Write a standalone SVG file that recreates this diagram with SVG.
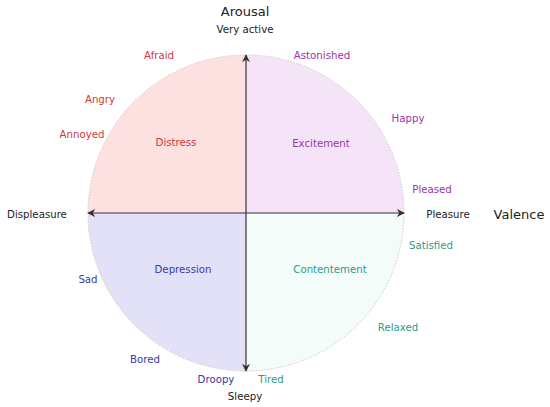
<svg xmlns="http://www.w3.org/2000/svg" width="550" height="407" viewBox="0 0 550 407">
<style>
text{font-family:"DejaVu Sans",Verdana,sans-serif;font-size:10.2px;text-anchor:middle}
.k{fill:#222}
.big{font-size:13px}
.r{fill:#d0383a}
.p{fill:#9a34a8}
.b{fill:#3a3aa0}
.t{fill:#2a9c8c}
.ax{stroke:#333;stroke-width:1.2;fill:none}
</style>
<defs>
<marker id="ah" viewBox="0 0 10 10" refX="9" refY="5" markerWidth="8" markerHeight="8" orient="auto-start-reverse" markerUnits="userSpaceOnUse">
<path d="M0,0 L10,5 L0,10 L3,5 Z" fill="#333"/>
</marker>
</defs>
<g id="quadrants">
<path id="q-distress" d="M246,213 L88,213 A158,158 0 0 1 246,55 Z" fill="#fde1e1"/>
<path id="q-excitement" d="M246,213 L246,55 A158,158 0 0 1 404,213 Z" fill="#f5e4f8"/>
<path id="q-depression" d="M246,213 L88,213 A158,158 0 0 0 246,371 Z" fill="#e2e1f7"/>
<path id="q-contentement" d="M246,213 L404,213 A158,158 0 0 1 246,371 Z" fill="#f4fcfa"/>
<circle cx="246" cy="213" r="158" fill="none" stroke="#c8c8c8" stroke-width="1" stroke-dasharray="1.5,1.5"/>
</g>
<g id="connectors">
<line class="ax" x1="246" y1="213" x2="246" y2="55" marker-end="url(#ah)"/>
<line class="ax" x1="246" y1="213" x2="246" y2="371" marker-end="url(#ah)"/>
<line class="ax" x1="246" y1="213" x2="88" y2="213" marker-end="url(#ah)"/>
<line class="ax" x1="246" y1="213" x2="404" y2="213" marker-end="url(#ah)"/>
</g>
<g id="labels">
<text class="k big" x="245" y="16">Arousal</text>
<text class="k" x="245" y="33">Very active</text>
<text class="k" x="245" y="400">Sleepy</text>
<text class="k" x="37" y="218">Displeasure</text>
<text class="k" x="448" y="218">Pleasure</text>
<text class="k big" x="519" y="219">Valence</text>
<text class="r" x="159" y="59">Afraid</text>
<text class="r" x="100" y="103">Angry</text>
<text class="r" x="82" y="138">Annoyed</text>
<text class="r" x="176" y="146">Distress</text>
<text class="p" x="322" y="59">Astonished</text>
<text class="p" x="408" y="122">Happy</text>
<text class="p" x="321" y="147">Excitement</text>
<text class="p" x="432" y="193">Pleased</text>
<text class="t" x="431" y="249">Satisfied</text>
<text class="t" x="330" y="273">Contentement</text>
<text class="t" x="398" y="331">Relaxed</text>
<text class="t" x="271" y="383">Tired</text>
<text class="b" x="183" y="273">Depression</text>
<text class="b" x="88" y="283">Sad</text>
<text class="b" x="145" y="363">Bored</text>
<text class="b" x="216" y="383">Droopy</text>
</g>
</svg>
